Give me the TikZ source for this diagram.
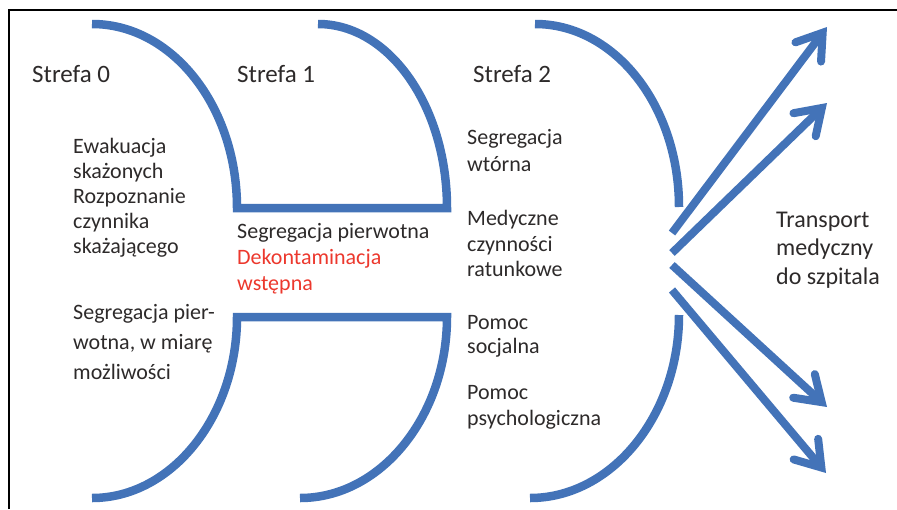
\documentclass[tikz,border=0pt]{standalone}
\usepackage{fontspec}
\setmainfont{Carlito}
\usetikzlibrary{arrows.meta}
\definecolor{zblue}{RGB}{67,115,184}
\definecolor{ztext}{RGB}{45,42,42}
\definecolor{zred}{RGB}{236,56,45}
\begin{document}
\begin{tikzpicture}[x=1pt,y=-1pt,
  zone/.style={draw=zblue, line width=8.5pt, line join=miter},
  arr/.style={draw=zblue, line width=8pt, -{Straight Barb[length=24pt,width=32pt,line cap=round,line join=miter]}},
  lbl/.style={anchor=base west, inner sep=0pt, text=ztext, font=\fontsize{22}{26}\selectfont},
  head/.style={lbl, font=\fontsize{25}{30}\selectfont},
  tr/.style={lbl, font=\fontsize{24}{28}\selectfont},
  redlbl/.style={lbl, text=zred}]
\useasboundingbox (0,0) rectangle (897,509);
% frame
\draw[black, line width=1.4pt] (9,509) -- (9,10) -- (897,10);
% zone boundaries
\draw[zone] (92,24) .. controls (172,24) and (237,106) .. (237,208)
  -- (447,208) .. controls (447,106) and (389,24) .. (318,24);
\draw[zone] (92,498) .. controls (172,498) and (237,416) .. (237,317)
  -- (447,317) .. controls (447,416) and (381,498) .. (300,498);
\draw[zone] (535,24) .. controls (615,24) and (679,106) .. (679,207);
\draw[zone] (679,315) .. controls (679,415) and (612,498) .. (530,498);
% arrows
\coordinate (s1) at (672,233); \coordinate (e1) at (827,27);
\coordinate (s2) at (672,253); \coordinate (e2) at (827,103);
\coordinate (s3) at (672,265); \coordinate (e3) at (827,407);
\coordinate (s4) at (672,290); \coordinate (e4) at (826,473);
\draw[arr] (s1) -- (e1);
\draw[arr] (s2) -- (e2);
\draw[arr] (s3) -- (e3);
\draw[arr] (s4) -- (e4);
% headings
\node[head] (h0) at (32,82) {Strefa 0};
\node[head] (h1) at (237,82) {Strefa 1};
\node[head] (h2) at (473,82) {Strefa 2};
% zone 0
\node[lbl] (a1) at (73,153) {Ewakuacja};
\node[lbl] (a2) at (73,178) {skażonych};
\node[lbl] (a3) at (73,203) {Rozpoznanie};
\node[lbl] (a4) at (73,228) {czynnika};
\node[lbl] (a5) at (73,253) {skażającego};
\node[lbl] (b1) at (73,319) {Segregacja pier-};
\node[lbl] (b2) at (73,349) {wotna, w miarę};
\node[lbl] (b3) at (73,379) {możliwości};
% zone 1 middle
\node[lbl] (m1) at (237,238) {Segregacja pierwotna};
\node[redlbl] (m2) at (237,264) {Dekontaminacja};
\node[redlbl] (m3) at (237,290) {wstępna};
% zone 2
\node[lbl] (c1) at (467,144) {Segregacja};
\node[lbl] (c2) at (467,171) {wtórna};
\node[lbl] (c3) at (467,225) {Medyczne};
\node[lbl] (c4) at (467,251) {czynności};
\node[lbl] (c5) at (467,276) {ratunkowe};
\node[lbl] (c6) at (467,329) {Pomoc};
\node[lbl] (c7) at (467,353) {socjalna};
\node[lbl] (c8) at (467,399) {Pomoc};
\node[lbl] (c9) at (467,425) {psychologiczna};
% transport
\node[tr] (t1) at (776,227) {Transport};
\node[tr] (t2) at (776,255) {medyczny};
\node[tr] (t3) at (776,284) {do szpitala};
\end{tikzpicture}
\end{document}
